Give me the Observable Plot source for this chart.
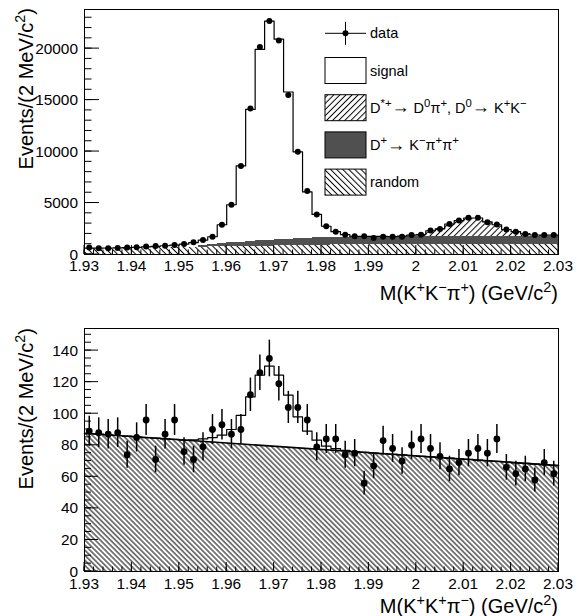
<!DOCTYPE html>
<html><head><meta charset="utf-8">
<script src="https://cdn.jsdelivr.net/npm/d3@7"></script>
<script src="https://cdn.jsdelivr.net/npm/@observablehq/plot@0.6"></script>
<style>
html,body{margin:0;padding:0;background:#fff;}
#chart svg{display:block;}
</style></head><body><div id="chart"></div>
<script>
const FONT = "'Liberation Sans', Arial, Helvetica, sans-serif";

// ---------- binning ----------
const massLow = 1.93, massHigh = 2.03, binWidth = 0.002, nBins = 50;
const binCenters = d3.range(nBins).map(i => +(massLow + binWidth * (i + 0.5)).toFixed(4));

// ---------- top panel: M(K+K-pi+) ----------
const topData = [690,610,615,630,670,710,770,815,860,915,
  1010,1180,1400,1730,2890,4840,8600,14180,20160,22680,
  20780,15490,9970,6180,3890,2750,2220,1930,1765,1765,
  1600,1730,1730,1730,1895,1930,2320,2485,2975,3300,
  3560,3560,3140,2910,2420,2220,1990,1895,1895,1895];
const topRandom = [600,610,620,630,640,650,660,670,680,690,
  700,710,720,735,750,765,780,795,810,825,
  840,855,870,885,900,915,930,940,950,960,
  965,970,975,980,985,990,990,995,995,1000,
  1000,1000,1000,1000,1000,1000,1000,1000,1000,1000];
const topDplus = [0,0,0,0,0,0,0,0,0,0,
  0,0,150,230,300,360,420,470,520,560,
  600,630,660,690,710,730,745,755,765,770,
  770,770,765,765,760,760,755,755,750,750,
  745,745,740,740,740,735,735,735,735,735];
const topDstar = [0,0,0,0,0,0,0,0,0,0,
  0,0,0,0,0,0,0,0,0,0,
  0,0,0,0,0,0,0,0,0,0,
  0,0,0,30,140,190,560,730,1220,1540,
  1800,1800,1420,1150,690,480,260,160,150,150];
const topSignal = [20,10,10,15,25,45,80,120,170,220,
  300,450,530,760,1840,3710,7400,12830,18600,21290,
  19480,14300,8440,4500,2280,1100,545,235,60,35,
  20,15,10,10,5,0,0,0,0,0,
  0,0,0,0,0,0,0,0,0,0];
const topYTicks = [0,5000,10000,15000,20000];
const topYLabels = ["0","5000","10000","15000","20000"];

// ---------- bottom panel: M(K+K+pi-) ----------
const botData = [89,88,87,88,74,85,96,71,87,96,
  76,71,79,90,93,87,90,112,126,135,
  119,104,104,96,79,84,84,74,75,56,
  67,83,78,70,80,84,78,73,65,69,
  75,78,75,84,66,62,65,58,69,62];
const botFit = [87.4,87.0,86.6,86.2,85.8,85.3,84.9,84.5,84.1,83.7,
  83.3,83.4,84.0,84.9,86.4,90.0,99.0,110.7,124.5,130.2,
  124.5,111.8,98.0,89.0,83.2,79.4,77.9,76.8,75.9,75.5,
  75.1,74.7,74.3,73.9,73.5,73.0,72.6,72.2,71.8,71.4,
  71.0,70.6,70.2,69.8,69.4,68.9,68.5,68.1,67.7,67.3];
const botBgMass = [1.93, 2.03];
const botBgValue = [87.6, 67.1];
const botYTicks = [0,20,40,60,80,100,120,140];
const botYLabels = ["0","20","40","60","80","100","120","140"];

// ---------- shared x ticks ----------
const xTicks = [1.93,1.94,1.95,1.96,1.97,1.98,1.99,2.00,2.01,2.02,2.03];
const xTickLabels = ["1.93","1.94","1.95","1.96","1.97","1.98","1.99","2","2.01","2.02","2.03"];
const xMinorTicks = d3.range(51).map(i => +(massLow + 0.002 * i).toFixed(4));

// ---------- legend ----------
const legendEntries = [
  {kind: "data", label: "data"},
  {kind: "box", fill: "#fff", label: "signal"},
  {kind: "box", fill: "url(#topFwd)", label: "D^{*+}→ D^{0}π^{+}, D^{0}→ K^{+}K^{−}"},
  {kind: "box", fill: "#505050", label: "D^{+}→ K^{−}π^{+}π^{+}"},
  {kind: "box", fill: "url(#topBack)", label: "random"}
];

// ---------- helpers ----------
function richText(textSel, str, size, supScale = 0.72) {
  const parts = str.split(/\^\{([^}]*)\}/);
  let shift = 0;
  const add = (txt, fs, target) => {
    textSel.append("tspan").attr("font-size", fs).attr("dy", target - shift).text(txt);
    shift = target;
  };
  parts.forEach((p, i) => {
    if (!p) return;
    const sup = i % 2 === 1;
    if (sup) { add(p, size * supScale, -0.4 * size); return; }
    // enlarge arrows (ROOT #rightarrow is a wide symbol glyph)
    p.split(/(→)/).forEach(seg => {
      if (!seg) return;
      if (seg === "→") add("→", size * 1.25, 0.05 * size);
      else add(seg, size, 0);
    });
  });
}

function defsMark(patterns) {
  return () => {
    const defs = d3.create("svg:defs");
    for (const p of patterns) {
      const pat = defs.append("pattern").attr("id", p.id).attr("patternUnits", "userSpaceOnUse")
        .attr("width", p.s).attr("height", p.s)
        .attr("patternTransform", `rotate(${p.angle})`);
      pat.append("line").attr("x1", p.s / 2).attr("x2", p.s / 2).attr("y1", -1).attr("y2", p.s + 1)
        .attr("stroke", "#000").attr("stroke-width", p.w || 1);
    }
    return defs.node();
  };
}

function rootAxes(cfg) {
  return (index, scales, values, dims) => {
    const {width, height, marginLeft, marginRight, marginTop, marginBottom} = dims;
    const L = marginLeft, B = height - marginBottom, R = width - marginRight;
    const g = d3.create("svg:g");
    const tk = g.append("g").attr("stroke", "#000").attr("stroke-width", 1).attr("fill", "none");
    for (const v of cfg.xMinor) {
      const x = scales.x(v);
      tk.append("line").attr("x1", x).attr("x2", x).attr("y1", B).attr("y2", B - cfg.xLen / 2);
    }
    for (const v of cfg.xMajor) {
      const x = scales.x(v);
      tk.append("line").attr("x1", x).attr("x2", x).attr("y1", B).attr("y2", B - cfg.xLen);
    }
    for (const v of cfg.yMinor) {
      const y = scales.y(v);
      tk.append("line").attr("x1", L).attr("x2", L + cfg.yLen / 2).attr("y1", y).attr("y2", y);
    }
    for (const v of cfg.yMajor) {
      const y = scales.y(v);
      tk.append("line").attr("x1", L).attr("x2", L + cfg.yLen).attr("y1", y).attr("y2", y);
    }
    const lab = g.append("g").attr("font-family", FONT).attr("font-size", cfg.tickFont).attr("fill", "#000");
    cfg.xMajor.forEach((v, i) => lab.append("text").attr("x", scales.x(v)).attr("y", B + cfg.xLabelDy)
      .attr("text-anchor", "middle").text(cfg.xLabels[i]));
    cfg.yMajor.forEach((v, i) => lab.append("text").attr("x", L - cfg.yLabelGap).attr("y", scales.y(v))
      .attr("dy", "0.36em").attr("text-anchor", "end").text(cfg.yLabels[i]));
    const xt = g.append("text").attr("font-family", FONT).attr("fill", "#000")
      .attr("x", R).attr("y", B + cfg.xTitleDy).attr("text-anchor", "end");
    richText(xt, cfg.xTitle, cfg.titleFont);
    const yt = g.append("text").attr("font-family", FONT).attr("fill", "#000")
      .attr("transform", `translate(${cfg.yTitleX},${marginTop + cfg.yTitleDy}) rotate(-90)`)
      .attr("text-anchor", "end");
    richText(yt, cfg.yTitle, cfg.titleFont);
    return g.node();
  };
}

function legendMark(entries) {
  return (index, scales, values, dims) => {
    const {marginLeft, marginTop} = dims;
    const g = d3.create("svg:g");
    const bx = marginLeft + 241, bw = 41, bh = 26, tx = marginLeft + 286;
    entries.forEach((e, i) => {
      const cy = marginTop + 24.3 + i * 37.2;
      if (e.kind === "data") {
        g.append("line").attr("x1", bx).attr("x2", bx + bw).attr("y1", cy).attr("y2", cy).attr("stroke", "#000");
        g.append("line").attr("x1", bx + bw / 2).attr("x2", bx + bw / 2).attr("y1", cy - 11.5).attr("y2", cy + 11.5).attr("stroke", "#000");
        g.append("circle").attr("cx", bx + bw / 2).attr("cy", cy).attr("r", 3).attr("fill", "#000");
      } else {
        g.append("rect").attr("x", bx).attr("y", cy - bh / 2).attr("width", bw).attr("height", bh)
          .attr("fill", e.fill).attr("stroke", "#000").attr("stroke-width", 1);
      }
      const t = g.append("text").attr("font-family", FONT).attr("fill", "#000")
        .attr("text-anchor", "start").attr("x", tx).attr("y", cy + 5);
      richText(t, e.label, 14.5, 0.78);
    });
    return g.node();
  };
}

// ---------- top panel build ----------
const topComps = [
  {vals: topRandom, fill: "url(#topBack)"},
  {vals: topDplus, fill: "#505050"},
  {vals: topDstar, fill: "url(#topFwd)"},
  {vals: topSignal, fill: "#ffffff"}
];
const topStack = topComps.map(() => []);
const topTotal = [];
binCenters.forEach((m, i) => {
  let base = 0;
  topComps.forEach((c, k) => {
    const v = c.vals[i];
    topStack[k].push({x1: m - binWidth / 2, x2: m + binWidth / 2, y1: base, y2: base + v});
    base += v;
  });
  topTotal.push(base);
});
const topEdges = binCenters.map((m, i) => ({m: m - binWidth / 2, v: topTotal[i]}));
topEdges.push({m: massHigh, v: topTotal[nBins - 1]});
const topRows = binCenters.map((m, i) => ({m, v: topData[i]}));

const topPlot = Plot.plot({
  width: 577, height: 310,
  marginTop: 9, marginBottom: 56, marginLeft: 84, marginRight: 19,
  x: {domain: [massLow, massHigh], axis: null},
  y: {domain: [0, 23800], axis: null},
  style: {fontFamily: FONT, background: "#fff"},
  marks: [
    defsMark([{id: "topBack", s: 4.3, angle: -45}, {id: "topFwd", s: 4.3, angle: 45}]),
    ...topComps.map((c, k) => Plot.rect(topStack[k], {x1: "x1", x2: "x2", y1: "y1", y2: "y2", fill: c.fill, shapeRendering: "crispEdges"})),
    Plot.line(topEdges, {x: "m", y: "v", curve: "step-after", stroke: "#000", strokeWidth: 1.2}),
    Plot.ruleX(topRows, {x: "m", y1: d => d.v - Math.sqrt(d.v), y2: d => d.v + Math.sqrt(d.v), stroke: "#000", strokeWidth: 1.2}),
    Plot.dot(topRows, {x: "m", y: "v", r: 3, fill: "#000", stroke: "none"}),
    Plot.frame({stroke: "#000"}),
    rootAxes({
      xMajor: xTicks, xLabels: xTickLabels, xMinor: xMinorTicks, xLen: 9,
      yMajor: topYTicks, yLabels: topYLabels, yMinor: d3.range(0, 23001, 1000), yLen: 15,
      tickFont: 15.4, xLabelDy: 17, yLabelGap: 6,
      titleFont: 20, xTitle: "M(K^{+}K^{−}π^{+}) (GeV/c^{2})", xTitleDy: 46,
      yTitle: "Events/(2 MeV/c^{2})", yTitleX: 33, yTitleDy: -1
    }),
    legendMark(legendEntries)
  ]
});

// ---------- bottom panel build ----------
const botRows = binCenters.map((m, i) => ({m, v: botData[i]}));
const botEdges = binCenters.map((m, i) => ({m: m - binWidth / 2, v: botFit[i]}));
botEdges.push({m: massHigh, v: botFit[nBins - 1]});
const botBg = botBgMass.map((m, i) => ({m, v: botBgValue[i]}));

const botPlot = Plot.plot({
  width: 577, height: 306,
  marginTop: 18, marginBottom: 45, marginLeft: 84, marginRight: 19,
  x: {domain: [massLow, massHigh], axis: null},
  y: {domain: [0, 154], axis: null},
  style: {fontFamily: FONT, background: "#fff"},
  marks: [
    defsMark([{id: "botBack", s: 3.6, angle: -45}]),
    Plot.areaY(botBg, {x: "m", y1: 0, y2: "v", fill: "url(#botBack)"}),
    Plot.line(botBg, {x: "m", y: "v", stroke: "#000", strokeWidth: 1.6}),
    Plot.line(botEdges, {x: "m", y: "v", curve: "step-after", stroke: "#000", strokeWidth: 1.2}),
    Plot.ruleX(botRows, {x: "m", y1: d => d.v - Math.sqrt(d.v), y2: d => d.v + Math.sqrt(d.v), stroke: "#000", strokeWidth: 1.5}),
    Plot.dot(botRows, {x: "m", y: "v", r: 3.4, fill: "#000", stroke: "none"}),
    Plot.frame({stroke: "#000"}),
    rootAxes({
      xMajor: xTicks, xLabels: xTickLabels, xMinor: xMinorTicks, xLen: 9,
      yMajor: botYTicks, yLabels: botYLabels, yMinor: d3.range(0, 151, 5), yLen: 14,
      tickFont: 15.4, xLabelDy: 18, yLabelGap: 6,
      titleFont: 20, xTitle: "M(K^{+}K^{+}π^{−}) (GeV/c^{2})", xTitleDy: 42,
      yTitle: "Events/(2 MeV/c^{2})", yTitleX: 33, yTitleDy: 0
    })
  ]
});

const chart = document.getElementById("chart");
chart.appendChild(topPlot);
chart.appendChild(botPlot);
</script>
</body></html>
